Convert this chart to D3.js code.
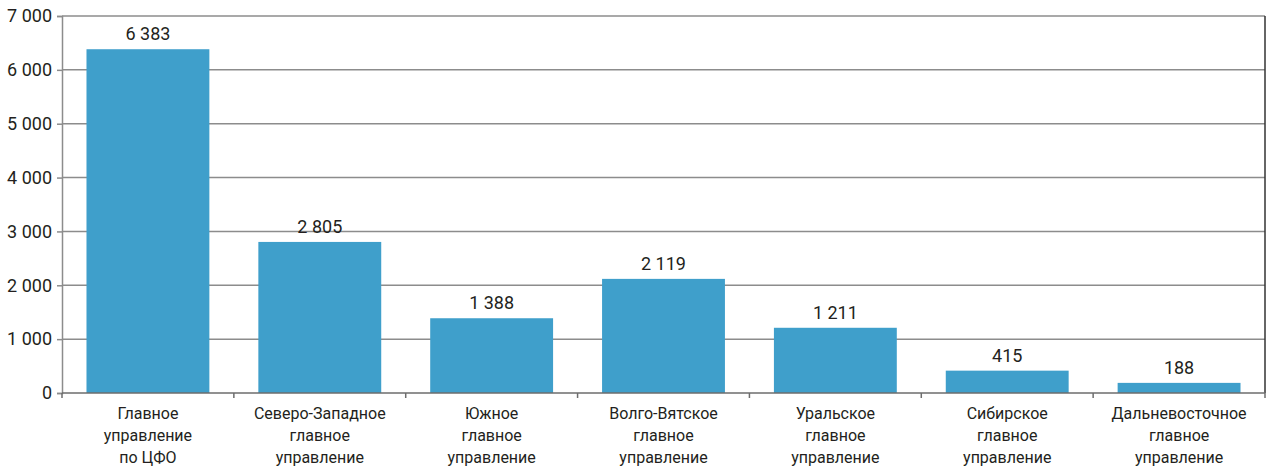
<!DOCTYPE html>
<html>
<head>
<meta charset="utf-8">
<script src="https://cdn.jsdelivr.net/npm/d3@7"></script>
<style>
  body { margin: 0; background: #fff; }
  text { font-family: Roboto, "Open Sans", sans-serif; fill: #231f20; }
</style>
</head>
<body>
<div id="theGraph"></div>
<script>
const categories = [
  ["Главное", "управление", "по ЦФО"],
  ["Северо-Западное", "главное", "управление"],
  ["Южное", "главное", "управление"],
  ["Волго-Вятское", "главное", "управление"],
  ["Уральское", "главное", "управление"],
  ["Сибирское", "главное", "управление"],
  ["Дальневосточное", "главное", "управление"]
];
const values = [6383, 2805, 1388, 2119, 1211, 415, 188];
const yTicks = [0, 1000, 2000, 3000, 4000, 5000, 6000, 7000];

const width = 1266, height = 469,
    margin = {left: 62, top: 16, right: 1, bottom: 76},
    contentWidth = width - margin.left - margin.right,
    contentHeight = height - margin.top - margin.bottom;

const fmt = d3.formatLocale({decimal: ",", thousands: "\u00a0", grouping: [3], currency: ["", ""]}).format(",d");

const svg = d3.select("#theGraph").append("svg").attr("width", width).attr("height", height);
const maing = svg.append("g").attr("transform", `translate(${margin.left}, ${margin.top})`);

const idx = d3.range(values.length);
const xScale = d3.scaleBand().domain(idx).range([0, contentWidth]).paddingInner(0.285).paddingOuter(0.1425);
const yScale = d3.scaleLinear().domain([0, 7000]).range([contentHeight, 0]);
const step = xScale.step();

// gridlines
maing.selectAll(".grid").data(yTicks.slice(1)).enter().append("line")
    .attr("x1", 0).attr("x2", contentWidth)
    .attr("y1", d => yScale(d)).attr("y2", d => yScale(d))
    .attr("stroke", "#8c8c8c").attr("stroke-width", 1.5);

// right border
maing.append("line").attr("x1", contentWidth).attr("x2", contentWidth)
    .attr("y1", 0).attr("y2", contentHeight).attr("stroke", "#333").attr("stroke-width", 1.5);

// bars
maing.selectAll(".bar").data(values).enter().append("rect")
    .attr("x", (d, i) => xScale(i)).attr("width", xScale.bandwidth())
    .attr("y", d => yScale(d)).attr("height", d => contentHeight - yScale(d))
    .attr("fill", "#3f9fcb");

// value labels
maing.selectAll(".val").data(values).enter().append("text")
    .attr("x", (d, i) => xScale(i) + xScale.bandwidth() / 2)
    .attr("y", d => yScale(d) - 9)
    .attr("text-anchor", "middle").attr("font-size", 18)
    .text(d => fmt(d));

// y axis
const yAxis = maing.append("g").call(d3.axisLeft(yScale).tickValues(yTicks).tickSize(5).tickPadding(5).tickFormat(fmt));
yAxis.select(".domain").attr("stroke", "#8c8c8c").attr("stroke-width", 1.5);
yAxis.selectAll(".tick line").attr("stroke", "#8c8c8c").attr("stroke-width", 1.5);
yAxis.selectAll("text").attr("font-size", 18).attr("fill", "#231f20").attr("font-family", "Roboto, sans-serif");

// x axis baseline and ticks at category boundaries
maing.append("line").attr("x1", 0).attr("x2", contentWidth)
    .attr("y1", contentHeight).attr("y2", contentHeight)
    .attr("stroke", "#6d6d6d").attr("stroke-width", 1.5);
maing.selectAll(".xtick").data(d3.range(values.length + 1)).enter().append("line")
    .attr("x1", d => d * step).attr("x2", d => d * step)
    .attr("y1", contentHeight).attr("y2", contentHeight + 5)
    .attr("stroke", "#6d6d6d").attr("stroke-width", 1.5);

// category labels
const cat = maing.selectAll(".cat").data(categories).enter().append("text")
    .attr("text-anchor", "middle").attr("font-size", 16)
    .attr("transform", (d, i) => `translate(${xScale(i) + xScale.bandwidth() / 2}, ${contentHeight + 26})`);
cat.selectAll("tspan").data(d => d).enter().append("tspan")
    .attr("x", 0).attr("dy", (d, i) => i === 0 ? 0 : 22).text(d => d);
</script>
</body>
</html>
